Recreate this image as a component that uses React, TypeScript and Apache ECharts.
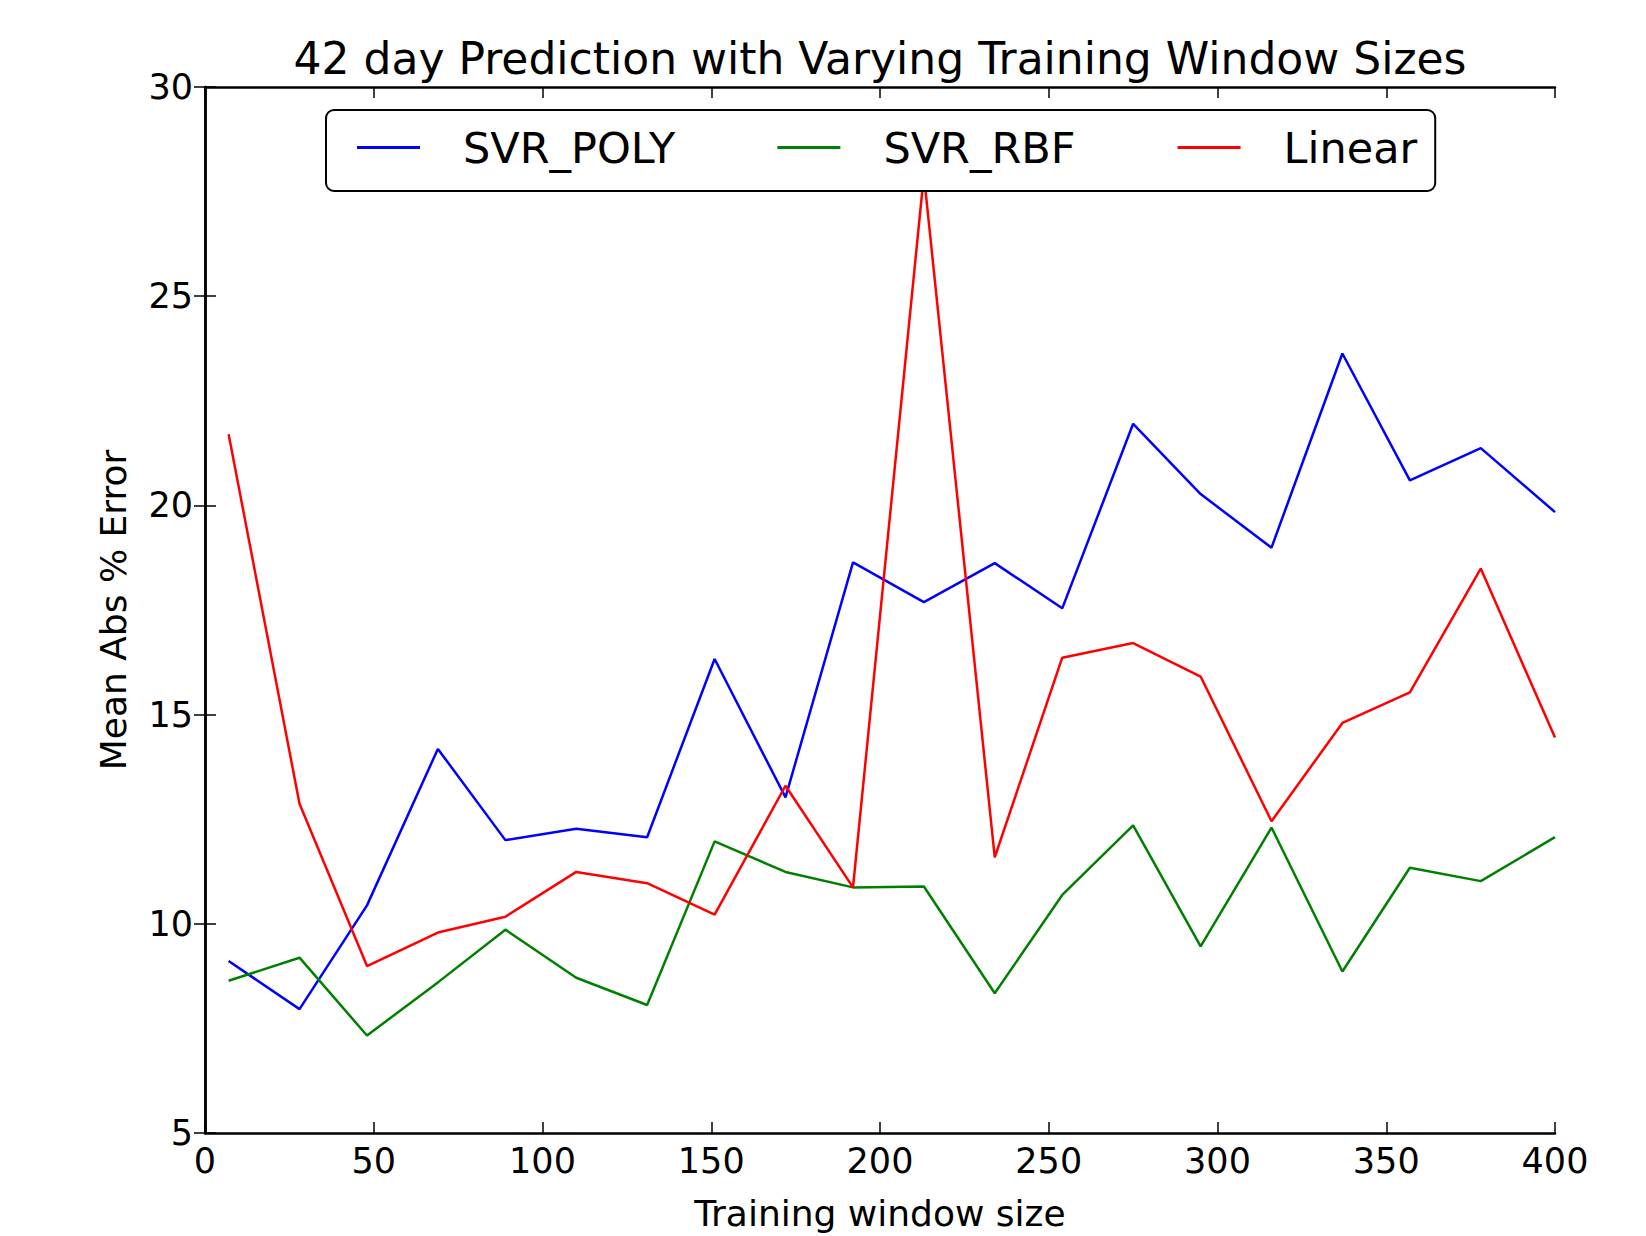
import React, { useEffect, useRef } from "react";
import * as echarts from "echarts";

const windowSizes = [7, 28, 48, 69, 89, 110, 131, 151, 172, 192, 213, 234, 254, 275, 295, 316, 337, 357, 378, 400];
const svrPoly = [9.11, 7.96, 10.44, 14.18, 12.0, 12.27, 12.07, 16.33, 13.02, 18.64, 17.69, 18.62, 17.54, 21.95, 20.27, 18.99, 23.63, 20.6, 21.37, 19.84];
const svrRbf = [8.64, 9.19, 7.33, 8.6, 9.86, 8.71, 8.06, 11.97, 11.24, 10.87, 10.89, 8.34, 10.69, 12.35, 9.46, 12.3, 8.86, 11.34, 11.02, 12.07];
const linear = [21.7, 12.87, 8.99, 9.79, 10.17, 11.24, 10.97, 10.22, 13.3, 10.87, 27.9, 11.59, 16.36, 16.71, 15.91, 12.45, 14.8, 15.53, 18.49, 14.45];
const seriesNames = ["SVR_POLY", "SVR_RBF", "Linear"];
const seriesColors = ["#0000ff", "#008000", "#ff0000"];
const titleText = "42 day Prediction with Varying Training Window Sizes";
const xLabel = "Training window size";
const yLabel = "Mean Abs % Error";

const FONT = "DejaVu Sans";

export default function App() {
  const ref = useRef<HTMLDivElement>(null);
  useEffect(() => {
    document.body.style.margin = "0";
    document.body.style.overflow = "hidden";
    document.documentElement.style.overflow = "hidden";
    const chart = echarts.init(ref.current!, null, { renderer: "svg" });
    const values = [svrPoly, svrRbf, linear];
    const axisLine = { show: true, lineStyle: { color: "#000", width: 2.5 } };
    const tick = { show: true, inside: true, length: 11, lineStyle: { color: "#000", width: 1.5 } };
    chart.setOption({
      animation: false,
      backgroundColor: "#fff",
      graphic: [
        {
          type: "text",
          x: 880,
          y: 58,
          style: {
            text: titleText,
            textAlign: "center",
            textVerticalAlign: "middle",
            fontFamily: FONT,
            fontSize: 44,
            fill: "#000",
          },
        },
      ],
      legend: {
        data: seriesNames,
        left: 326,
        top: 110,
        orient: "horizontal",
        icon: "rect",
        itemWidth: 63,
        itemHeight: 3,
        itemGap: 102,
        backgroundColor: "#fff",
        borderColor: "#000",
        borderWidth: 2,
        borderRadius: 8,
        padding: [16, 18, 22, 31],
        textStyle: { fontFamily: FONT, fontSize: 43, lineHeight: 41, color: "#000", padding: [0, 0, 0, 38] },
        z: 10,
      },
      grid: { left: 205, right: 91, top: 87, bottom: 102, containLabel: false },
      xAxis: [
        {
          type: "value",
          min: 0,
          max: 400,
          interval: 50,
          name: xLabel,
          nameLocation: "middle",
          nameGap: 62,
          nameTextStyle: { fontFamily: FONT, fontSize: 36, lineHeight: 36, color: "#000" },
          axisLine,
          axisTick: tick,
          axisLabel: { fontFamily: FONT, fontSize: 35, color: "#000", margin: 10 },
          splitLine: { show: false },
        },
        {
          type: "value",
          position: "top",
          min: 0,
          max: 400,
          interval: 50,
          axisLine,
          axisTick: tick,
          axisLabel: { show: false },
          splitLine: { show: false },
        },
      ],
      yAxis: [
        {
          type: "value",
          min: 5,
          max: 30,
          interval: 5,
          name: yLabel,
          nameLocation: "middle",
          nameGap: 74,
          nameRotate: 90,
          nameTextStyle: { fontFamily: FONT, fontSize: 36, color: "#000" },
          axisLine,
          axisTick: tick,
          axisLabel: { fontFamily: FONT, fontSize: 35, color: "#000", margin: 12 },
          splitLine: { show: false },
        },
        {
          type: "value",
          position: "right",
          min: 5,
          max: 30,
          interval: 5,
          axisLine,
          axisTick: tick,
          axisLabel: { show: false },
          splitLine: { show: false },
        },
      ],
      series: seriesNames.map((name, i) => ({
        name,
        type: "line",
        symbol: "none",
        clip: true,
        color: seriesColors[i],
        lineStyle: { color: seriesColors[i], width: 2.5 },
        data: windowSizes.map((x, j) => [x, values[i][j]]),
        z: 2,
      })),
    });
    return () => chart.dispose();
  }, []);
  return <div ref={ref} style={{ width: 1646, height: 1236, overflow: "hidden" }} />;
}
